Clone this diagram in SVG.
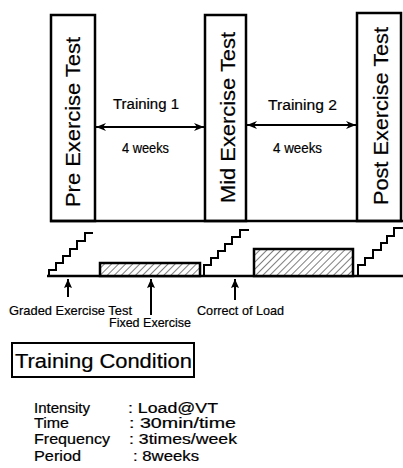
<svg xmlns="http://www.w3.org/2000/svg" width="403" height="468" viewBox="0 0 403 468">
<style>
.box{fill:#fff;stroke:#000;stroke-width:2.5}
.t{font-family:"Liberation Sans",Arial,sans-serif;fill:#000;stroke:#000;stroke-width:0.2}
.big{font-size:21px}
.mid{font-size:14px}
.sm{font-size:13px}
.ln{stroke:#000;stroke-width:2;fill:none}
.base{stroke:#000;stroke-width:2.5;fill:none}
.hatch{fill:url(#h);stroke:#000;stroke-width:2.5}
</style>
<defs>
<pattern id="h" patternUnits="userSpaceOnUse" width="5" height="5" patternTransform="rotate(45)">
<rect width="5" height="5" fill="#fff"/>
<line x1="0" y1="0" x2="0" y2="5" stroke="#000" stroke-width="1"/>
</pattern>
<marker id="dh" markerWidth="11" markerHeight="9" refX="10" refY="4.5" orient="auto-start-reverse" markerUnits="userSpaceOnUse">
<path d="M0,0.5 L10,4.5 L0,8.5 L3,4.5 z" fill="#000"/>
</marker>
<marker id="up" markerWidth="9" markerHeight="9" refX="9" refY="4" orient="auto" markerUnits="userSpaceOnUse">
<path d="M0,0 L9,4 L0,8 L1.5,4 z" fill="#000"/>
</marker>
</defs>

<g id="pre-test">
<rect class="box" x="51" y="15" width="44" height="206"/>
<text class="t big" transform="translate(80,122) rotate(-90)" text-anchor="middle" textLength="170" lengthAdjust="spacingAndGlyphs">Pre Exercise Test</text>
</g>
<g id="mid-test">
<rect class="box" x="205" y="15" width="41" height="206"/>
<text class="t big" transform="translate(235,117.5) rotate(-90)" text-anchor="middle" textLength="171" lengthAdjust="spacingAndGlyphs">Mid Exercise Test</text>
</g>
<g id="post-test">
<rect class="box" x="357" y="13" width="44" height="208"/>
<text class="t big" transform="translate(388,116) rotate(-90)" text-anchor="middle" textLength="178" lengthAdjust="spacingAndGlyphs">Post Exercise Test</text>
</g>

<g id="training1">
<text class="t mid" x="146" y="109" text-anchor="middle" textLength="66" lengthAdjust="spacingAndGlyphs">Training 1</text>
<text class="t mid" x="145.5" y="153" text-anchor="middle" textLength="47" lengthAdjust="spacingAndGlyphs">4 weeks</text>
</g>
<g id="training2">
<text class="t mid" x="302.5" y="110" text-anchor="middle" textLength="69" lengthAdjust="spacingAndGlyphs">Training 2</text>
<text class="t mid" x="297.5" y="153" text-anchor="middle" textLength="49" lengthAdjust="spacingAndGlyphs">4 weeks</text>
</g>

<g id="timeline">
<line class="base" x1="50" y1="221" x2="403" y2="221"/>
<line class="base" x1="47" y1="276" x2="403" y2="276"/>
<polyline class="ln" points="49,276 49,270 56,270 56,263 63,263 63,256 70,256 70,249 77,249 77,241 85,241 85,233 93,233"/>
<rect class="hatch" x="100" y="263" width="100" height="13"/>
<polyline class="ln" points="204,276 204,265 211,265 211,258 218,258 218,251 225,251 225,244 232,244 232,237 240,237 240,230 249,230"/>
<rect class="hatch" x="254" y="249" width="99" height="27"/>
<polyline class="ln" points="358,276 358,265 365,265 365,258 373,258 373,250 381,250 381,243 387,243 387,236 394,236 394,228 403,228"/>
</g>

<g id="connectors">
<line class="ln" x1="96" y1="127" x2="204" y2="127" marker-start="url(#dh)" marker-end="url(#dh)"/>
<line class="ln" x1="247" y1="125" x2="356" y2="125" marker-start="url(#dh)" marker-end="url(#dh)"/>
<line class="ln" x1="68" y1="297" x2="68" y2="279" marker-end="url(#up)"/>
<line class="ln" x1="151" y1="315" x2="151" y2="279" marker-end="url(#up)"/>
<line class="ln" x1="235" y1="300" x2="235" y2="279" marker-end="url(#up)"/>
</g>

<g id="labels">
<text class="t sm" x="9" y="315" textLength="123" lengthAdjust="spacingAndGlyphs">Graded Exercise Test</text>
<text class="t sm" x="109" y="327" textLength="82" lengthAdjust="spacingAndGlyphs">Fixed Exercise</text>
<text class="t sm" x="197" y="315" textLength="87" lengthAdjust="spacingAndGlyphs">Correct of Load</text>
</g>

<g id="training-condition">
<rect x="12" y="343" width="182" height="34" fill="#fff" stroke="#000" stroke-width="2"/>
<text class="t" x="15" y="368" font-size="20" textLength="177" lengthAdjust="spacingAndGlyphs">Training Condition</text>
</g>

<g id="conditions">
<text class="t mid" x="34" y="413" textLength="56" lengthAdjust="spacingAndGlyphs">Intensity</text>
<text class="t mid" x="34" y="428" textLength="35" lengthAdjust="spacingAndGlyphs">Time</text>
<text class="t mid" x="34" y="444" textLength="76" lengthAdjust="spacingAndGlyphs">Frequency</text>
<text class="t mid" x="34" y="461" textLength="47" lengthAdjust="spacingAndGlyphs">Period</text>
<text class="t mid" x="128" y="413" textLength="90" lengthAdjust="spacingAndGlyphs">: Load@VT</text>
<text class="t mid" x="129" y="428" textLength="107" lengthAdjust="spacingAndGlyphs">: 30min/time</text>
<text class="t mid" x="129" y="444" textLength="108" lengthAdjust="spacingAndGlyphs">: 3times/week</text>
<text class="t mid" x="133" y="461" textLength="66" lengthAdjust="spacingAndGlyphs">: 8weeks</text>
</g>
</svg>
